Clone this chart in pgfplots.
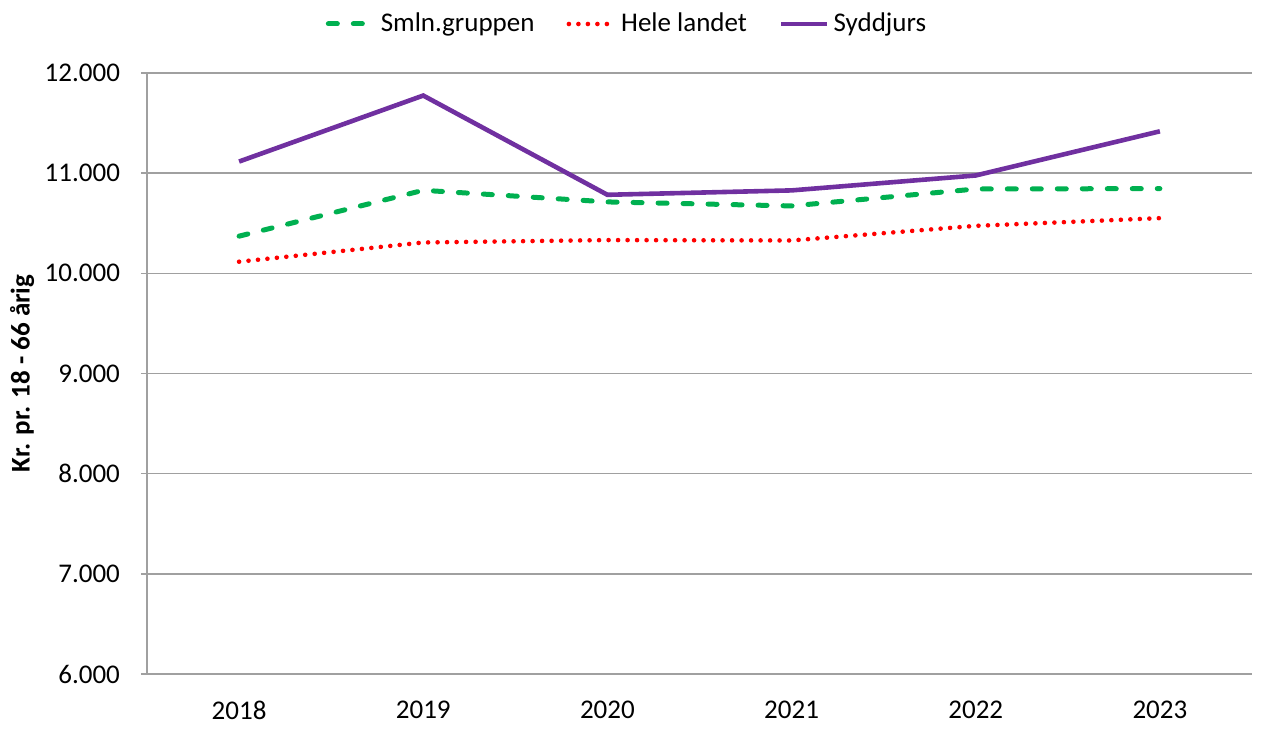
\documentclass[border=0pt]{standalone}
\usepackage{pgfplots}
\pgfplotsset{compat=1.18}
\usepackage{fontspec}
\setmainfont{Carlito}
\definecolor{cgreen}{RGB}{0,176,80}
\definecolor{cred}{RGB}{255,0,0}
\definecolor{cpurple}{RGB}{112,48,160}
\definecolor{cgrid}{RGB}{160,160,160}
\begin{document}
\begin{tikzpicture}
\begin{axis}[
  at={(0,0)}, anchor=south west,
  scale only axis,
  width=552.5pt, height=300.5pt,
  xmin=-0.5, xmax=5.5,
  ymin=6000, ymax=12000,
  xtick={0,1,2,3,4,5},
  xticklabels={2018,2019,2020,2021,2022,2023},
  ytick={6000,7000,8000,9000,10000,11000,12000},
  scaled y ticks=false,
  /pgf/number format/1000 sep={.},
  /pgf/number format/assume math mode=true,
  font=\fontsize{13.5pt}{16pt}\selectfont,
  ymajorgrids,
  grid style={cgrid, line width=0.75pt},
  axis line style={cgrid, line width=0.75pt},
  axis x line*=bottom,
  axis y line*=left,
  x axis line style={-},
  y axis line style={-},
  xtick style={draw=none},
  ytick style={cgrid, line width=0.75pt},
  tick align=outside,
  major tick length=3pt,
  yticklabel style={xshift=-7pt},
  xticklabel style={yshift=-7pt},
  ylabel={\bfseries Kr. pr. 18 - 66 årig},
  ylabel style={at={(axis description cs:-0.1131,0.5)}, anchor=center},
  legend columns=3,
  legend style={at={(240.5pt,325pt)}, anchor=center, draw=none, fill=none,
    font=\fontsize{13.5pt}{16pt}\selectfont,
    /tikz/every even column/.append style={column sep=14pt}},
  legend image code/.code={\draw[#1] (0pt,0pt) -- (23pt,0pt);},
]
\addplot[cgreen, line width=2.5pt, line cap=round, dash pattern=on 4.5pt off 8pt] coordinates {
  (0,10371) (1,10829) (2,10713) (3,10673) (4,10842) (5,10846)};
\addlegendentry{Smln.gruppen}
\addplot[cred, line width=2.3pt, line cap=round, dash pattern=on 0pt off 4.75pt] coordinates {
  (0,10116) (1,10308) (2,10332) (3,10328) (4,10474) (5,10551)};
\addlegendentry{Hele landet}
\addplot[cpurple, line width=2.3pt] coordinates {
  (0,11116) (1,11775) (2,10784) (3,10828) (4,10977) (5,11418)};
\addlegendentry{Syddjurs}
\end{axis}
\pgfresetboundingbox
\path (-73.5pt,-29.5pt) rectangle (562pt,337pt);
\end{tikzpicture}
\end{document}
